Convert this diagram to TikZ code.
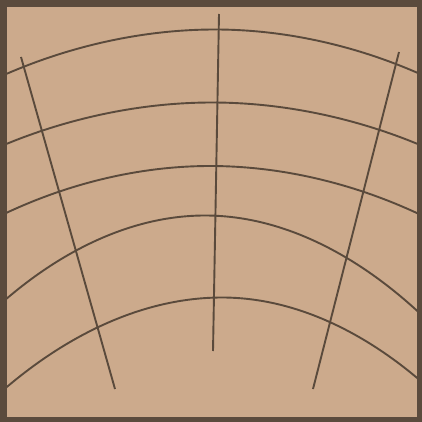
\documentclass[tikz,border=0pt]{standalone}
\definecolor{framec}{HTML}{5B4B3D}
\definecolor{woodc}{HTML}{CCAA8C}
\definecolor{grainc}{HTML}{5A4A3C}
\tikzset{grain/.style={draw=grainc, line width=1.9pt}}
\begin{document}
\begin{tikzpicture}[x=1pt,y=-1pt]
\useasboundingbox (0,0) rectangle (422,422);
\fill[framec] (0,0) rectangle (422,422);
\fill[woodc] (7,7) rectangle (417,417);
\begin{scope}
\clip (7,7) rectangle (417,417);
\draw[grain] (5,74.5) parabola bend (215,29.5) (419,73.5);
\draw[grain] (5,144.5) parabola bend (212,102.5) (419,144.5);
\draw[grain] (5,213.5) parabola bend (210,166) (419,214);
\draw[grain] (5,300) parabola bend (205,215.5) (419,312.5);
\draw[grain] (5,388.5) parabola bend (222,297.5) (419,379.5);
\draw[grain] (219,14) -- (213,351);
\draw[grain] (21,57) -- (115,389);
\draw[grain] (399,52) -- (313,389);
\end{scope}
\end{tikzpicture}
\end{document}
